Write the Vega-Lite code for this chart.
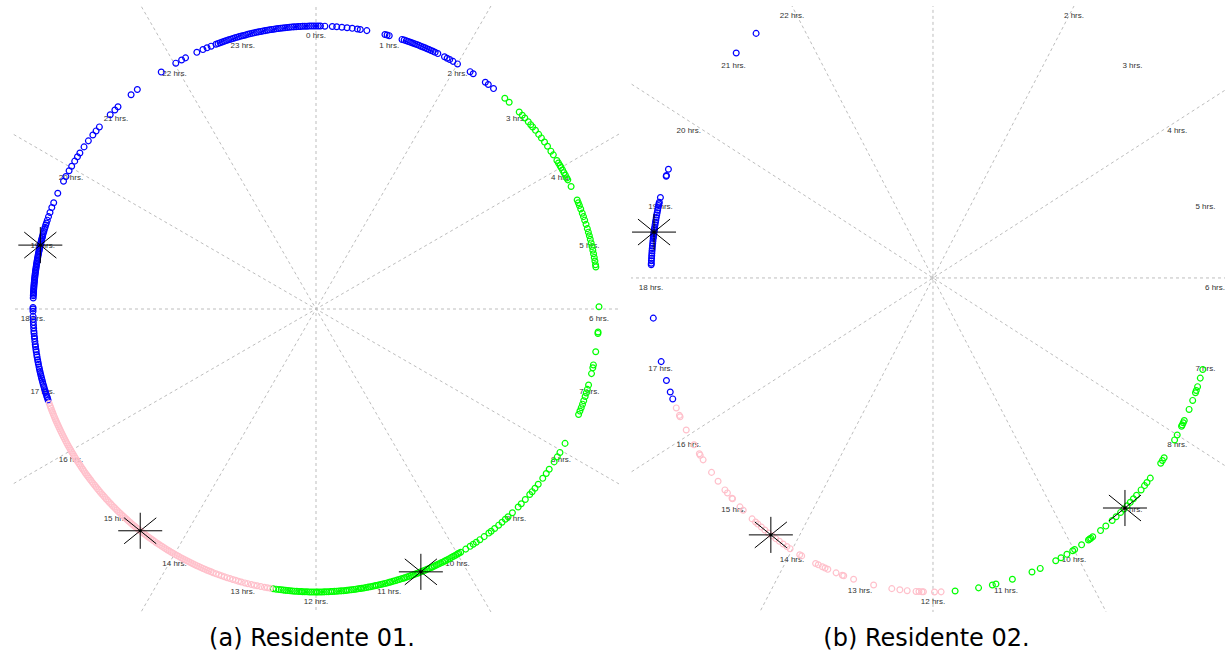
{
"$schema": "https://vega.github.io/schema/vega-lite/v6.json",
"padding": {"left": 13, "top": 6, "right": 0, "bottom": 0},
"spacing": 11,
"config": {"view": {"stroke": null}},
"datasets": {
"lines": [{"h":0},{"h":2},{"h":4},{"h":6},{"h":8},{"h":10}],
"labels": [{"h":0,"t":"0 hrs."},{"h":1,"t":"1 hrs."},{"h":2,"t":"2 hrs."},{"h":3,"t":"3 hrs."},{"h":4,"t":"4 hrs."},{"h":5,"t":"5 hrs."},{"h":6,"t":"6 hrs."},{"h":7,"t":"7 hrs."},{"h":8,"t":"8 hrs."},{"h":9,"t":"9 hrs."},{"h":10,"t":"10 hrs."},{"h":11,"t":"11 hrs."},{"h":12,"t":"12 hrs."},{"h":13,"t":"13 hrs."},{"h":14,"t":"14 hrs."},{"h":15,"t":"15 hrs."},{"h":16,"t":"16 hrs."},{"h":17,"t":"17 hrs."},{"h":18,"t":"18 hrs."},{"h":19,"t":"19 hrs."},{"h":20,"t":"20 hrs."},{"h":21,"t":"21 hrs."},{"h":22,"t":"22 hrs."},{"h":23,"t":"23 hrs."}],
"sa": [{"h":18.87},{"h":14.56},{"h":10.55}],
"sb": [{"h":18.56},{"h":14.34},{"h":9.14}],
"a": [
{"h":16.75,"c":"B"},{"h":16.78,"c":"B"},{"h":16.8,"c":"B"},{"h":16.83,"c":"B"},{"h":16.86,"c":"B"},{"h":16.88,"c":"B"},{"h":16.91,"c":"B"},{"h":16.94,"c":"B"},{"h":16.97,"c":"B"},{"h":17.0,"c":"B"},{"h":17.03,"c":"B"},{"h":17.06,"c":"B"},{"h":17.09,"c":"B"},{"h":17.12,"c":"B"},{"h":17.15,"c":"B"},{"h":17.18,"c":"B"},{"h":17.21,"c":"B"},{"h":17.25,"c":"B"},{"h":17.28,"c":"B"},{"h":17.31,"c":"B"},{"h":17.35,"c":"B"},{"h":17.38,"c":"B"},{"h":17.42,"c":"B"},{"h":17.45,"c":"B"},{"h":17.49,"c":"B"},{"h":17.52,"c":"B"},{"h":17.56,"c":"B"},{"h":17.6,"c":"B"},{"h":17.63,"c":"B"},{"h":17.67,"c":"B"},{"h":17.7,"c":"B"},{"h":17.74,"c":"B"},{"h":17.78,"c":"B"},{"h":17.82,"c":"B"},{"h":17.86,"c":"B"},{"h":17.9,"c":"B"},{"h":17.97,"c":"B"},{"h":18.0,"c":"B"},{"h":18.02,"c":"B"},
{"h":18.15,"c":"B"},{"h":18.18,"c":"B"},{"h":18.2,"c":"B"},{"h":18.22,"c":"B"},{"h":18.24,"c":"B"},{"h":18.26,"c":"B"},{"h":18.28,"c":"B"},{"h":18.3,"c":"B"},{"h":18.32,"c":"B"},{"h":18.34,"c":"B"},{"h":18.36,"c":"B"},{"h":18.38,"c":"B"},{"h":18.4,"c":"B"},{"h":18.42,"c":"B"},{"h":18.44,"c":"B"},{"h":18.46,"c":"B"},{"h":18.48,"c":"B"},{"h":18.5,"c":"B"},{"h":18.52,"c":"B"},{"h":18.54,"c":"B"},{"h":18.56,"c":"B"},{"h":18.58,"c":"B"},{"h":18.6,"c":"B"},{"h":18.62,"c":"B"},{"h":18.64,"c":"B"},{"h":18.66,"c":"B"},{"h":18.68,"c":"B"},{"h":18.7,"c":"B"},{"h":18.72,"c":"B"},{"h":18.74,"c":"B"},{"h":18.76,"c":"B"},{"h":18.78,"c":"B"},{"h":18.8,"c":"B"},{"h":18.82,"c":"B"},{"h":18.84,"c":"B"},{"h":18.86,"c":"B"},{"h":18.88,"c":"B"},{"h":18.9,"c":"B"},{"h":18.92,"c":"B"},{"h":18.94,"c":"B"},{"h":18.96,"c":"B"},{"h":18.98,"c":"B"},{"h":19.0,"c":"B"},{"h":19.03,"c":"B"},{"h":19.06,"c":"B"},{"h":19.09,"c":"B"},{"h":19.12,"c":"B"},{"h":19.15,"c":"B"},{"h":19.18,"c":"B"},{"h":19.22,"c":"B"},{"h":19.27,"c":"B"},{"h":19.33,"c":"B"},{"h":19.4,"c":"B"},{"h":19.47,"c":"B"},{"h":19.61,"c":"B"},
{"h":19.79,"c":"B"},{"h":19.86,"c":"B"},{"h":19.95,"c":"B"},{"h":20.02,"c":"B"},{"h":20.1,"c":"B"},{"h":20.17,"c":"B"},{"h":20.23,"c":"B"},{"h":20.33,"c":"B"},{"h":20.43,"c":"B"},{"h":20.53,"c":"B"},{"h":20.6,"c":"B"},{"h":20.67,"c":"B"},{"h":20.89,"c":"B"},{"h":20.98,"c":"B"},{"h":21.04,"c":"B"},{"h":21.28,"c":"B"},{"h":21.39,"c":"B"},{"h":21.79,"c":"B"},
{"h":22.02,"c":"B"},{"h":22.11,"c":"B"},{"h":22.17,"c":"B"},{"h":22.34,"c":"B"},{"h":22.43,"c":"B"},{"h":22.49,"c":"B"},{"h":22.55,"c":"B"},
{"h":22.62,"c":"B"},{"h":22.65,"c":"B"},{"h":22.68,"c":"B"},{"h":22.71,"c":"B"},{"h":22.74,"c":"B"},{"h":22.77,"c":"B"},{"h":22.8,"c":"B"},{"h":22.83,"c":"B"},{"h":22.86,"c":"B"},{"h":22.89,"c":"B"},{"h":22.92,"c":"B"},{"h":22.95,"c":"B"},{"h":22.98,"c":"B"},{"h":23.01,"c":"B"},{"h":23.04,"c":"B"},{"h":23.07,"c":"B"},{"h":23.1,"c":"B"},{"h":23.13,"c":"B"},{"h":23.16,"c":"B"},{"h":23.19,"c":"B"},{"h":23.22,"c":"B"},{"h":23.25,"c":"B"},{"h":23.28,"c":"B"},{"h":23.31,"c":"B"},{"h":23.34,"c":"B"},{"h":23.37,"c":"B"},{"h":23.4,"c":"B"},{"h":23.43,"c":"B"},{"h":23.46,"c":"B"},{"h":23.49,"c":"B"},{"h":23.52,"c":"B"},{"h":23.55,"c":"B"},{"h":23.58,"c":"B"},{"h":23.61,"c":"B"},{"h":23.64,"c":"B"},{"h":23.67,"c":"B"},{"h":23.7,"c":"B"},{"h":23.73,"c":"B"},{"h":23.76,"c":"B"},{"h":23.79,"c":"B"},{"h":23.82,"c":"B"},{"h":23.85,"c":"B"},{"h":23.88,"c":"B"},{"h":23.91,"c":"B"},{"h":23.94,"c":"B"},{"h":23.97,"c":"B"},
{"h":0.0,"c":"B"},{"h":0.03,"c":"B"},{"h":0.06,"c":"B"},{"h":0.12,"c":"B"},{"h":0.22,"c":"B"},{"h":0.28,"c":"B"},{"h":0.35,"c":"B"},{"h":0.42,"c":"B"},{"h":0.49,"c":"B"},{"h":0.56,"c":"B"},{"h":0.6,"c":"B"},{"h":0.69,"c":"B"},
{"h":0.94,"c":"B"},{"h":0.97,"c":"B"},{"h":1.0,"c":"B"},
{"h":1.18,"c":"B"},{"h":1.21,"c":"B"},{"h":1.24,"c":"B"},{"h":1.27,"c":"B"},{"h":1.3,"c":"B"},{"h":1.33,"c":"B"},{"h":1.36,"c":"B"},{"h":1.39,"c":"B"},{"h":1.42,"c":"B"},{"h":1.45,"c":"B"},{"h":1.48,"c":"B"},{"h":1.51,"c":"B"},{"h":1.54,"c":"B"},{"h":1.57,"c":"B"},{"h":1.6,"c":"B"},{"h":1.63,"c":"B"},{"h":1.66,"c":"B"},{"h":1.7,"c":"B"},
{"h":1.8,"c":"B"},{"h":1.84,"c":"B"},{"h":1.88,"c":"B"},{"h":1.93,"c":"B"},{"h":2.0,"c":"B"},{"h":2.2,"c":"B"},{"h":2.25,"c":"B"},{"h":2.45,"c":"B"},{"h":2.5,"c":"B"},{"h":2.59,"c":"B"},
{"h":2.79,"c":"G"},{"h":2.87,"c":"G"},{"h":3.06,"c":"G"},{"h":3.12,"c":"G"},{"h":3.17,"c":"G"},{"h":3.24,"c":"G"},{"h":3.29,"c":"G"},{"h":3.33,"c":"G"},{"h":3.39,"c":"G"},{"h":3.46,"c":"G"},{"h":3.52,"c":"G"},{"h":3.59,"c":"G"},{"h":3.66,"c":"G"},{"h":3.74,"c":"G"},{"h":3.8,"c":"G"},{"h":3.89,"c":"G"},{"h":3.93,"c":"G"},{"h":3.97,"c":"G"},{"h":4.0,"c":"G"},{"h":4.04,"c":"G"},{"h":4.08,"c":"G"},{"h":4.12,"c":"G"},{"h":4.16,"c":"G"},{"h":4.19,"c":"G"},{"h":4.29,"c":"G"},{"h":4.49,"c":"G"},{"h":4.53,"c":"G"},{"h":4.57,"c":"G"},{"h":4.62,"c":"G"},{"h":4.68,"c":"G"},{"h":4.73,"c":"G"},{"h":4.78,"c":"G"},{"h":4.84,"c":"G"},{"h":4.9,"c":"G"},{"h":4.95,"c":"G"},{"h":5.0,"c":"G"},{"h":5.05,"c":"G"},{"h":5.1,"c":"G"},{"h":5.15,"c":"G"},{"h":5.2,"c":"G"},{"h":5.25,"c":"G"},{"h":5.3,"c":"G"},{"h":5.35,"c":"G"},{"h":5.4,"c":"G"},{"h":5.43,"c":"G"},{"h":5.97,"c":"G"},{"h":6.31,"c":"G"},{"h":6.33,"c":"G"},{"h":6.58,"c":"G"},{"h":6.76,"c":"G"},{"h":6.8,"c":"G"},{"h":6.88,"c":"G"},{"h":7.04,"c":"G"},{"h":7.1,"c":"G"},{"h":7.15,"c":"G"},{"h":7.2,"c":"G"},{"h":7.26,"c":"G"},{"h":7.31,"c":"G"},{"h":7.36,"c":"G"},{"h":7.41,"c":"G"},{"h":7.46,"c":"G"},{"h":7.89,"c":"G"},{"h":8.03,"c":"G"},{"h":8.1,"c":"G"},{"h":8.18,"c":"G"},{"h":8.3,"c":"G"},{"h":8.37,"c":"G"},{"h":8.45,"c":"G"},{"h":8.55,"c":"G"},{"h":8.62,"c":"G"},{"h":8.68,"c":"G"},{"h":8.73,"c":"G"},{"h":8.82,"c":"G"},{"h":8.9,"c":"G"},{"h":8.96,"c":"G"},{"h":9.07,"c":"G"},{"h":9.15,"c":"G"},{"h":9.2,"c":"G"},{"h":9.26,"c":"G"},{"h":9.32,"c":"G"},{"h":9.39,"c":"G"},{"h":9.45,"c":"G"},{"h":9.49,"c":"G"},{"h":9.57,"c":"G"},{"h":9.64,"c":"G"},{"h":9.7,"c":"G"},{"h":9.75,"c":"G"},{"h":9.8,"c":"G"},{"h":9.87,"c":"G"},
{"h":9.95,"c":"G"},{"h":9.98,"c":"G"},{"h":10.0,"c":"G"},{"h":10.03,"c":"G"},{"h":10.06,"c":"G"},{"h":10.09,"c":"G"},{"h":10.12,"c":"G"},{"h":10.15,"c":"G"},{"h":10.18,"c":"G"},{"h":10.2,"c":"G"},{"h":10.23,"c":"G"},{"h":10.26,"c":"G"},{"h":10.29,"c":"G"},{"h":10.32,"c":"G"},{"h":10.35,"c":"G"},{"h":10.38,"c":"G"},{"h":10.4,"c":"G"},{"h":10.43,"c":"G"},{"h":10.46,"c":"G"},{"h":10.49,"c":"G"},{"h":10.52,"c":"G"},{"h":10.55,"c":"G"},{"h":10.58,"c":"G"},{"h":10.6,"c":"G"},{"h":10.63,"c":"G"},{"h":10.66,"c":"G"},{"h":10.69,"c":"G"},{"h":10.72,"c":"G"},{"h":10.75,"c":"G"},{"h":10.78,"c":"G"},{"h":10.8,"c":"G"},{"h":10.83,"c":"G"},{"h":10.86,"c":"G"},{"h":10.89,"c":"G"},{"h":10.92,"c":"G"},{"h":10.95,"c":"G"},{"h":10.98,"c":"G"},{"h":11.0,"c":"G"},{"h":11.03,"c":"G"},{"h":11.06,"c":"G"},{"h":11.09,"c":"G"},{"h":11.12,"c":"G"},{"h":11.15,"c":"G"},{"h":11.18,"c":"G"},{"h":11.2,"c":"G"},{"h":11.23,"c":"G"},{"h":11.26,"c":"G"},{"h":11.29,"c":"G"},{"h":11.32,"c":"G"},{"h":11.35,"c":"G"},{"h":11.38,"c":"G"},{"h":11.4,"c":"G"},{"h":11.43,"c":"G"},{"h":11.46,"c":"G"},{"h":11.49,"c":"G"},{"h":11.52,"c":"G"},{"h":11.55,"c":"G"},{"h":11.58,"c":"G"},{"h":11.6,"c":"G"},{"h":11.63,"c":"G"},{"h":11.66,"c":"G"},{"h":11.69,"c":"G"},{"h":11.72,"c":"G"},{"h":11.75,"c":"G"},{"h":11.78,"c":"G"},{"h":11.8,"c":"G"},{"h":11.83,"c":"G"},{"h":11.86,"c":"G"},{"h":11.89,"c":"G"},{"h":11.92,"c":"G"},{"h":11.95,"c":"G"},{"h":11.98,"c":"G"},{"h":12.0,"c":"G"},{"h":12.03,"c":"G"},{"h":12.06,"c":"G"},{"h":12.09,"c":"G"},{"h":12.12,"c":"G"},{"h":12.15,"c":"G"},{"h":12.18,"c":"G"},{"h":12.2,"c":"G"},{"h":12.23,"c":"G"},{"h":12.26,"c":"G"},{"h":12.29,"c":"G"},{"h":12.32,"c":"G"},{"h":12.35,"c":"G"},{"h":12.38,"c":"G"},{"h":12.41,"c":"G"},{"h":12.44,"c":"G"},{"h":12.47,"c":"G"},{"h":12.5,"c":"G"},{"h":12.54,"c":"G"},{"h":12.58,"c":"G"},
{"h":12.62,"c":"P"},{"h":12.66,"c":"P"},{"h":12.7,"c":"P"},{"h":12.75,"c":"P"},{"h":12.8,"c":"P"},{"h":12.84,"c":"P"},{"h":12.88,"c":"P"},{"h":12.93,"c":"P"},{"h":12.97,"c":"P"},{"h":13.02,"c":"P"},{"h":13.06,"c":"P"},{"h":13.1,"c":"P"},{"h":13.14,"c":"P"},{"h":13.18,"c":"P"},{"h":13.22,"c":"P"},{"h":13.26,"c":"P"},{"h":13.3,"c":"P"},{"h":13.34,"c":"P"},{"h":13.38,"c":"P"},
{"h":13.42,"c":"P"},{"h":13.45,"c":"P"},{"h":13.48,"c":"P"},{"h":13.51,"c":"P"},{"h":13.54,"c":"P"},{"h":13.57,"c":"P"},{"h":13.6,"c":"P"},{"h":13.63,"c":"P"},{"h":13.66,"c":"P"},{"h":13.69,"c":"P"},{"h":13.72,"c":"P"},{"h":13.75,"c":"P"},{"h":13.78,"c":"P"},{"h":13.81,"c":"P"},{"h":13.84,"c":"P"},{"h":13.87,"c":"P"},{"h":13.9,"c":"P"},{"h":13.93,"c":"P"},{"h":13.96,"c":"P"},{"h":13.99,"c":"P"},{"h":14.02,"c":"P"},{"h":14.05,"c":"P"},{"h":14.08,"c":"P"},{"h":14.11,"c":"P"},{"h":14.14,"c":"P"},{"h":14.17,"c":"P"},{"h":14.2,"c":"P"},{"h":14.23,"c":"P"},{"h":14.26,"c":"P"},{"h":14.29,"c":"P"},{"h":14.32,"c":"P"},{"h":14.35,"c":"P"},{"h":14.38,"c":"P"},{"h":14.41,"c":"P"},{"h":14.44,"c":"P"},{"h":14.47,"c":"P"},{"h":14.5,"c":"P"},{"h":14.53,"c":"P"},{"h":14.56,"c":"P"},{"h":14.59,"c":"P"},{"h":14.62,"c":"P"},{"h":14.65,"c":"P"},{"h":14.68,"c":"P"},{"h":14.71,"c":"P"},{"h":14.74,"c":"P"},{"h":14.77,"c":"P"},{"h":14.8,"c":"P"},{"h":14.83,"c":"P"},{"h":14.86,"c":"P"},{"h":14.89,"c":"P"},{"h":14.92,"c":"P"},{"h":14.95,"c":"P"},{"h":14.98,"c":"P"},{"h":15.01,"c":"P"},{"h":15.04,"c":"P"},{"h":15.07,"c":"P"},{"h":15.1,"c":"P"},{"h":15.13,"c":"P"},{"h":15.16,"c":"P"},{"h":15.19,"c":"P"},{"h":15.22,"c":"P"},{"h":15.25,"c":"P"},{"h":15.28,"c":"P"},{"h":15.31,"c":"P"},{"h":15.34,"c":"P"},{"h":15.37,"c":"P"},{"h":15.4,"c":"P"},{"h":15.43,"c":"P"},{"h":15.46,"c":"P"},{"h":15.49,"c":"P"},{"h":15.52,"c":"P"},{"h":15.55,"c":"P"},{"h":15.58,"c":"P"},{"h":15.61,"c":"P"},{"h":15.64,"c":"P"},{"h":15.67,"c":"P"},{"h":15.7,"c":"P"},{"h":15.73,"c":"P"},{"h":15.76,"c":"P"},{"h":15.79,"c":"P"},{"h":15.82,"c":"P"},{"h":15.85,"c":"P"},{"h":15.88,"c":"P"},{"h":15.91,"c":"P"},{"h":15.94,"c":"P"},{"h":15.97,"c":"P"},{"h":16.0,"c":"P"},{"h":16.03,"c":"P"},{"h":16.06,"c":"P"},{"h":16.09,"c":"P"},{"h":16.12,"c":"P"},{"h":16.15,"c":"P"},{"h":16.18,"c":"P"},{"h":16.21,"c":"P"},{"h":16.24,"c":"P"},{"h":16.27,"c":"P"},{"h":16.3,"c":"P"},{"h":16.33,"c":"P"},{"h":16.36,"c":"P"},{"h":16.39,"c":"P"},{"h":16.42,"c":"P"},{"h":16.45,"c":"P"},{"h":16.48,"c":"P"},{"h":16.51,"c":"P"},{"h":16.54,"c":"P"},{"h":16.57,"c":"P"},{"h":16.6,"c":"P"},{"h":16.63,"c":"P"},{"h":16.66,"c":"P"},{"h":16.7,"c":"P"}
],
"b": [
{"h":16.49,"c":"B"},{"h":16.58,"c":"B"},{"h":16.73,"c":"B"},{"h":16.97,"c":"B"},{"h":17.51,"c":"B"},{"h":18.16,"c":"B"},{"h":18.18,"c":"B"},{"h":18.21,"c":"B"},{"h":18.24,"c":"B"},{"h":18.27,"c":"B"},{"h":18.3,"c":"B"},{"h":18.33,"c":"B"},{"h":18.36,"c":"B"},{"h":18.39,"c":"B"},{"h":18.42,"c":"B"},{"h":18.45,"c":"B"},{"h":18.48,"c":"B"},{"h":18.5,"c":"B"},{"h":18.52,"c":"B"},{"h":18.54,"c":"B"},{"h":18.56,"c":"B"},{"h":18.58,"c":"B"},{"h":18.6,"c":"B"},{"h":18.62,"c":"B"},{"h":18.65,"c":"B"},{"h":18.68,"c":"B"},{"h":18.71,"c":"B"},{"h":18.74,"c":"B"},{"h":18.77,"c":"B"},{"h":18.8,"c":"B"},{"h":18.83,"c":"B"},{"h":18.86,"c":"B"},{"h":18.89,"c":"B"},{"h":18.91,"c":"B"},{"h":18.93,"c":"B"},{"h":18.99,"c":"B"},{"h":19.26,"c":"B"},{"h":19.27,"c":"B"},{"h":19.35,"c":"B"},{"h":21.05,"c":"B"},{"h":21.41,"c":"B"},
{"h":7.13,"c":"G"},{"h":7.24,"c":"G"},{"h":7.35,"c":"G"},{"h":7.4,"c":"G"},{"h":7.43,"c":"G"},{"h":7.53,"c":"G"},{"h":7.65,"c":"G"},{"h":7.8,"c":"G"},{"h":7.83,"c":"G"},{"h":7.86,"c":"G"},{"h":7.88,"c":"G"},{"h":8.0,"c":"G"},{"h":8.07,"c":"G"},{"h":8.33,"c":"G"},{"h":8.37,"c":"G"},{"h":8.41,"c":"G"},{"h":8.64,"c":"G"},{"h":8.71,"c":"G"},{"h":8.76,"c":"G"},{"h":8.83,"c":"G"},{"h":8.92,"c":"G"},{"h":8.98,"c":"G"},{"h":9.04,"c":"G"},{"h":9.1,"c":"G"},{"h":9.16,"c":"G"},{"h":9.22,"c":"G"},{"h":9.3,"c":"G"},{"h":9.37,"c":"G"},{"h":9.48,"c":"G"},{"h":9.57,"c":"G"},{"h":9.7,"c":"G"},{"h":9.73,"c":"G"},{"h":9.75,"c":"G"},{"h":9.77,"c":"G"},{"h":9.88,"c":"G"},{"h":9.99,"c":"G"},{"h":10.02,"c":"G"},{"h":10.11,"c":"G"},{"h":10.2,"c":"G"},{"h":10.28,"c":"G"},{"h":10.51,"c":"G"},{"h":10.63,"c":"G"},{"h":10.91,"c":"G"},{"h":11.14,"c":"G"},{"h":11.19,"c":"G"},{"h":11.38,"c":"G"},{"h":11.7,"c":"G"},
{"h":11.89,"c":"P"},{"h":11.98,"c":"P"},{"h":12.13,"c":"P"},{"h":12.15,"c":"P"},{"h":12.19,"c":"P"},{"h":12.23,"c":"P"},{"h":12.35,"c":"P"},{"h":12.45,"c":"P"},{"h":12.56,"c":"P"},{"h":12.81,"c":"P"},{"h":13.09,"c":"P"},{"h":13.23,"c":"P"},{"h":13.25,"c":"P"},{"h":13.34,"c":"P"},{"h":13.46,"c":"P"},{"h":13.5,"c":"P"},{"h":13.54,"c":"P"},{"h":13.6,"c":"P"},{"h":13.64,"c":"P"},{"h":13.85,"c":"P"},{"h":13.88,"c":"P"},{"h":14.03,"c":"P"},{"h":14.08,"c":"P"},{"h":14.14,"c":"P"},{"h":14.2,"c":"P"},{"h":14.26,"c":"P"},{"h":14.32,"c":"P"},{"h":14.38,"c":"P"},{"h":14.44,"c":"P"},{"h":14.5,"c":"P"},{"h":14.56,"c":"P"},{"h":14.6,"c":"P"},{"h":14.66,"c":"P"},{"h":14.82,"c":"P"},{"h":14.88,"c":"P"},{"h":15.02,"c":"P"},{"h":15.03,"c":"P"},{"h":15.12,"c":"P"},{"h":15.17,"c":"P"},{"h":15.31,"c":"P"},{"h":15.45,"c":"P"},{"h":15.64,"c":"P"},{"h":15.71,"c":"P"},{"h":15.73,"c":"P"},{"h":15.86,"c":"P"},{"h":16.07,"c":"P"},{"h":16.25,"c":"P"},{"h":16.27,"c":"P"},{"h":16.37,"c":"P"}
]
},
"hconcat": [
{
"width": 606, "height": 606,
"title": {"text": "(a) Residente 01.", "orient": "bottom", "anchor": "middle", "frame": "group", "font": "DejaVu Sans", "fontSize": 24, "fontWeight": "normal", "color": "#000000", "offset": 15, "dx": -4},
"layer": [
{"data": {"name": "lines"},
 "transform": [{"calculate": "2*sin(datum.h*PI/12)", "as": "x"}, {"calculate": "2*cos(datum.h*PI/12)", "as": "y"}, {"calculate": "-datum.x", "as": "x2"}, {"calculate": "-datum.y", "as": "y2"}],
 "mark": {"type": "rule", "clip": true, "color": "#bdbdbd", "strokeDash": [3, 3], "strokeWidth": 1},
 "encoding": {"x": {"field": "x", "type": "quantitative", "scale": {"domain": [-1.0707, 1.0707], "nice": false, "zero": false}, "axis": null},
  "y": {"field": "y", "type": "quantitative", "scale": {"domain": [-1.0707, 1.0707], "nice": false, "zero": false}, "axis": null},
  "x2": {"field": "x2"}, "y2": {"field": "y2"}}},
{"data": {"name": "labels"},
 "transform": [{"calculate": "sin(datum.h*PI/12)", "as": "x"}, {"calculate": "cos(datum.h*PI/12)", "as": "y"}],
 "mark": {"type": "text", "font": "Liberation Sans", "fontSize": 8, "color": "#333333", "align": "center", "baseline": "middle", "dy": 10},
 "encoding": {"x": {"field": "x", "type": "quantitative", "scale": {"domain": [-1.0707, 1.0707], "nice": false, "zero": false}, "axis": null},
  "y": {"field": "y", "type": "quantitative", "scale": {"domain": [-1.0707, 1.0707], "nice": false, "zero": false}, "axis": null},
  "text": {"field": "t"}}},
{"data": {"name": "a"},
 "transform": [{"calculate": "sin(datum.h*PI/12)", "as": "x"}, {"calculate": "cos(datum.h*PI/12)", "as": "y"}],
 "mark": {"type": "point", "shape": "circle", "filled": false, "size": 34, "strokeWidth": 1.2, "opacity": 1},
 "encoding": {"x": {"field": "x", "type": "quantitative", "scale": {"domain": [-1.0707, 1.0707], "nice": false, "zero": false}, "axis": null},
  "y": {"field": "y", "type": "quantitative", "scale": {"domain": [-1.0707, 1.0707], "nice": false, "zero": false}, "axis": null},
  "color": {"field": "c", "type": "nominal", "scale": {"domain": ["B", "G", "P"], "range": ["#0000ff", "#00ff00", "#ffc0cb"]}, "legend": null}}},
{"data": {"name": "sa"},
 "transform": [{"calculate": "sin(datum.h*PI/12)", "as": "x"}, {"calculate": "cos(datum.h*PI/12)", "as": "y"}],
 "mark": {"type": "point", "shape": "M-1,0L1,0M0,-0.82L0,0.82M-0.73,-0.59L0.73,0.59M-0.73,0.59L0.73,-0.59", "filled": false, "size": 1936, "stroke": "#000000", "strokeWidth": 1, "opacity": 1},
 "encoding": {"x": {"field": "x", "type": "quantitative", "scale": {"domain": [-1.0707, 1.0707], "nice": false, "zero": false}, "axis": null},
  "y": {"field": "y", "type": "quantitative", "scale": {"domain": [-1.0707, 1.0707], "nice": false, "zero": false}, "axis": null}}},
{"data": {"name": "sa"},
 "transform": [{"calculate": "sin(datum.h*PI/12)", "as": "x"}, {"calculate": "cos(datum.h*PI/12)", "as": "y"}],
 "mark": {"type": "point", "shape": "circle", "filled": true, "size": 10, "color": "#000000", "opacity": 1},
 "encoding": {"x": {"field": "x", "type": "quantitative", "scale": {"domain": [-1.0707, 1.0707], "nice": false, "zero": false}, "axis": null},
  "y": {"field": "y", "type": "quantitative", "scale": {"domain": [-1.0707, 1.0707], "nice": false, "zero": false}, "axis": null}}}
]
},
{
"width": 595, "height": 606,
"title": {"text": "(b) Residente 02.", "orient": "bottom", "anchor": "middle", "frame": "group", "font": "DejaVu Sans", "fontSize": 24, "fontWeight": "normal", "color": "#000000", "offset": 15, "dx": -2},
"layer": [
{"data": {"name": "lines"},
 "transform": [{"calculate": "2*sin(datum.h*PI/12)", "as": "x"}, {"calculate": "2*cos(datum.h*PI/12)", "as": "y"}, {"calculate": "-datum.x", "as": "x2"}, {"calculate": "-datum.y", "as": "y2"}],
 "mark": {"type": "rule", "clip": true, "color": "#bdbdbd", "strokeDash": [3, 3], "strokeWidth": 1},
 "encoding": {"x": {"field": "x", "type": "quantitative", "scale": {"domain": [-1.0709, 1.039], "nice": false, "zero": false}, "axis": null},
  "y": {"field": "y", "type": "quantitative", "scale": {"domain": [-1.0637, 0.866], "nice": false, "zero": false}, "axis": null},
  "x2": {"field": "x2"}, "y2": {"field": "y2"}}},
{"data": {"name": "labels"},
 "transform": [{"filter": "datum.h >= 2 && datum.h <= 22"}, {"calculate": "sin(datum.h*PI/12)", "as": "x"}, {"calculate": "cos(datum.h*PI/12)", "as": "y"}],
 "mark": {"type": "text", "clip": true, "font": "Liberation Sans", "fontSize": 8, "color": "#333333", "align": "center", "baseline": "middle", "dy": 10},
 "encoding": {"x": {"field": "x", "type": "quantitative", "scale": {"domain": [-1.0709, 1.039], "nice": false, "zero": false}, "axis": null},
  "y": {"field": "y", "type": "quantitative", "scale": {"domain": [-1.0637, 0.866], "nice": false, "zero": false}, "axis": null},
  "text": {"field": "t"}}},
{"data": {"name": "b"},
 "transform": [{"calculate": "sin(datum.h*PI/12)", "as": "x"}, {"calculate": "cos(datum.h*PI/12)", "as": "y"}],
 "mark": {"type": "point", "shape": "circle", "filled": false, "size": 34, "strokeWidth": 1.2, "opacity": 1},
 "encoding": {"x": {"field": "x", "type": "quantitative", "scale": {"domain": [-1.0709, 1.039], "nice": false, "zero": false}, "axis": null},
  "y": {"field": "y", "type": "quantitative", "scale": {"domain": [-1.0637, 0.866], "nice": false, "zero": false}, "axis": null},
  "color": {"field": "c", "type": "nominal", "scale": {"domain": ["B", "G", "P"], "range": ["#0000ff", "#00ff00", "#ffc0cb"]}, "legend": null}}},
{"data": {"name": "sb"},
 "transform": [{"calculate": "sin(datum.h*PI/12)", "as": "x"}, {"calculate": "cos(datum.h*PI/12)", "as": "y"}],
 "mark": {"type": "point", "shape": "M-1,0L1,0M0,-0.82L0,0.82M-0.73,-0.59L0.73,0.59M-0.73,0.59L0.73,-0.59", "filled": false, "size": 1936, "stroke": "#000000", "strokeWidth": 1, "opacity": 1},
 "encoding": {"x": {"field": "x", "type": "quantitative", "scale": {"domain": [-1.0709, 1.039], "nice": false, "zero": false}, "axis": null},
  "y": {"field": "y", "type": "quantitative", "scale": {"domain": [-1.0637, 0.866], "nice": false, "zero": false}, "axis": null}}},
{"data": {"name": "sb"},
 "transform": [{"calculate": "sin(datum.h*PI/12)", "as": "x"}, {"calculate": "cos(datum.h*PI/12)", "as": "y"}],
 "mark": {"type": "point", "shape": "circle", "filled": true, "size": 10, "color": "#000000", "opacity": 1},
 "encoding": {"x": {"field": "x", "type": "quantitative", "scale": {"domain": [-1.0709, 1.039], "nice": false, "zero": false}, "axis": null},
  "y": {"field": "y", "type": "quantitative", "scale": {"domain": [-1.0637, 0.866], "nice": false, "zero": false}, "axis": null}}}
]
}
]
}
